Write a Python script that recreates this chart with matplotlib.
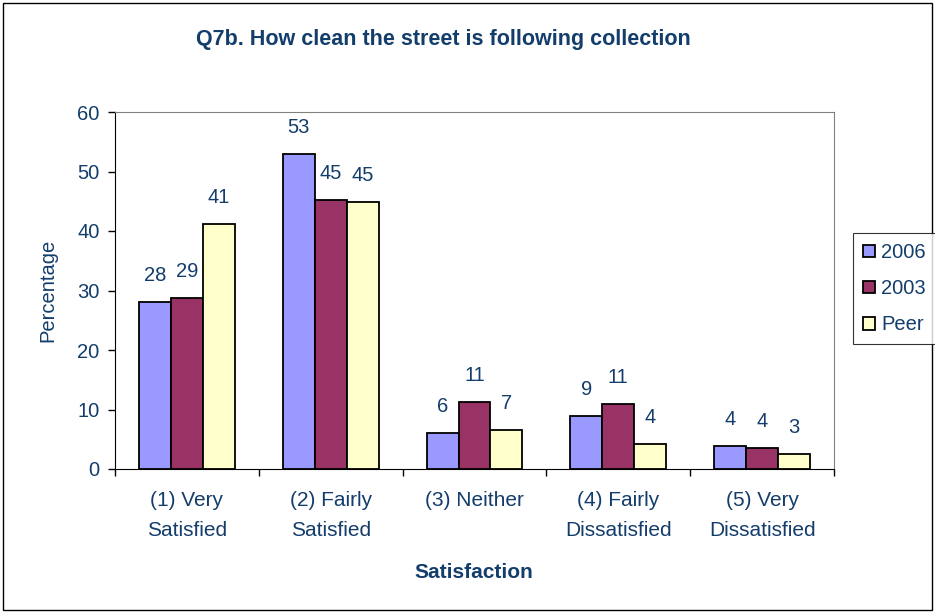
import matplotlib.pyplot as plt
import numpy as np
from matplotlib.patches import Rectangle

plt.rcParams['font.family'] = ['Liberation Sans', 'DejaVu Sans']

categories = ["(1) Very\nSatisfied", "(2) Fairly\nSatisfied", "(3) Neither",
              "(4) Fairly\nDissatisfied", "(5) Very\nDissatisfied"]
series_names = ["2006", "2003", "Peer"]
vals_2006 = [28.1, 52.9, 6.0, 8.9, 3.9]
vals_2003 = [28.8, 45.2, 11.3, 10.9, 3.6]
vals_peer = [41.2, 44.9, 6.6, 4.2, 2.6]
colors = ["#9999FF", "#993366", "#FFFFCC"]
text_col = "#133D6B"
fs = 14.5

fig = plt.figure(figsize=(9.35, 6.13), dpi=100)
ax = fig.add_axes([115 / 935, 1 - 469 / 613, 719 / 935, 357 / 613])

x = np.arange(len(categories))
w = 0.222
for i, (name, vals) in enumerate(zip(series_names, [vals_2006, vals_2003, vals_peer])):
    pos = x + (i - 1) * w
    ax.bar(pos, vals, width=w, color=colors[i], edgecolor="black", linewidth=1.3, label=name, zorder=3)
    for p, v in zip(pos, vals):
        ax.annotate(f"{round(v):d}", (p, v), xytext=(0, 19), textcoords="offset points",
                    ha="center", va="center", fontsize=fs, color=text_col)

ax.set_xlim(-0.5, len(categories) - 0.5)
ax.set_ylim(0, 60)
ax.set_yticks(range(0, 61, 10))
ax.set_xticks(x)
ax.set_xticklabels(categories, fontsize=15, color=text_col, linespacing=1.75)
ax.set_xticks(np.arange(-0.5, len(categories), 1), minor=True)
ax.tick_params(axis="x", which="major", length=0, pad=16)
ax.tick_params(axis="x", which="minor", length=5, width=1, direction="out")
ax.tick_params(axis="y", length=5, width=1, labelsize=fs, labelcolor=text_col, pad=6)
for side in ["top", "right"]:
    ax.spines[side].set_color("#808080")
for side in ["left", "bottom"]:
    ax.spines[side].set_color("black")

fig.text(48 / 935, 1 - 290 / 613, "Percentage", rotation=90, ha="center", va="center",
         fontsize=fs, color=text_col)
fig.text(474 / 935, 1 - 572 / 613, "Satisfaction", ha="center", va="center",
         fontsize=15, fontweight="bold", color=text_col)
fig.text(443 / 935, 1 - 40 / 613, "Q7b. How clean the street is following collection",
         ha="center", va="center", fontsize=15.5, fontweight="bold", color=text_col)

leg = fig.legend(loc="upper left", bbox_to_anchor=(853 / 935, 1 - 233 / 613), fontsize=fs,
                 frameon=True, fancybox=False, edgecolor="black", handlelength=0.6, handleheight=0.6,
                 handletextpad=0.3, labelspacing=0.85, borderpad=0.5, borderaxespad=0)
leg.get_frame().set_linewidth(0.8)
for t in leg.get_texts():
    t.set_color(text_col)

fig.patches.append(Rectangle((0.003, 0.005), 0.994, 0.99, transform=fig.transFigure,
                             fill=False, edgecolor="black", linewidth=1))

fig.savefig("out.png", dpi=100)
